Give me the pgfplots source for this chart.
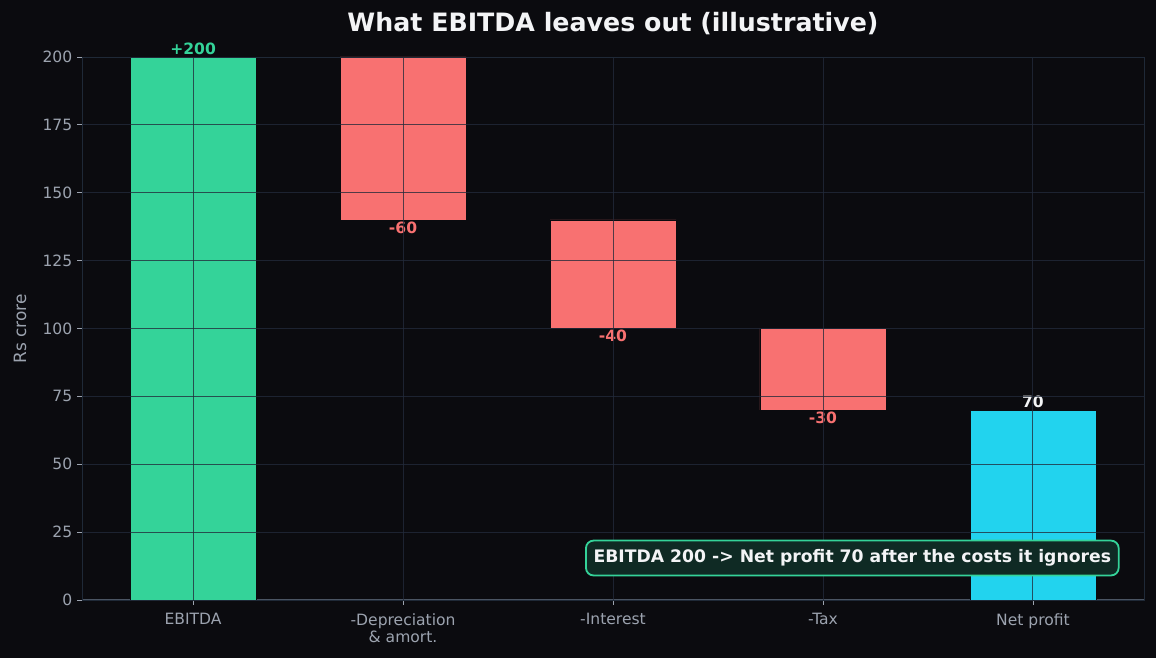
\documentclass[border=0pt]{standalone}
\usepackage{fontspec}
\setmainfont{DejaVu Sans}
\usepackage{pgfplots}
\pgfplotsset{compat=1.18}
\definecolor{bg}{HTML}{0B0B0F}
\definecolor{gridc}{HTML}{232B3B}
\definecolor{spinec}{HTML}{1F2937}
\definecolor{spineb}{HTML}{4B5563}
\definecolor{tickc}{HTML}{9CA3AF}
\definecolor{grn}{HTML}{34D399}
\definecolor{rd}{HTML}{F87171}
\definecolor{cy}{HTML}{22D3EE}
\definecolor{titlec}{HTML}{F3F4F6}
\definecolor{boxfill}{HTML}{0F2A24}
\begin{document}
\begin{tikzpicture}
\fill[bg] (0pt,0pt) rectangle (832.32pt,473.76pt);
\useasboundingbox (0pt,0pt) rectangle (832.32pt,473.76pt);
\begin{axis}[
  at={(59.04pt,41.76pt)}, anchor=south west,
  scale only axis, width=764.64pt, height=390.96pt,
  ybar stacked, bar width=0.6,
  xmin=-0.529, xmax=4.529, ymin=0, ymax=200,
  xtick={0,1,2,3,4},
  xticklabels={EBITDA,{-Depreciation\\\& amort.},-Interest,-Tax,Net profit},
  xticklabel style={align=center, font=\fontsize{11.2}{12.6}\selectfont, text=tickc, yshift=-2.5pt},
  ytick={0,25,...,200},
  yticklabel style={font=\fontsize{11.2}{12.2}\selectfont, text=tickc},
  /pgf/number format/assume math mode=true,
  axis on top=true,
  grid=major,
  major grid style={draw=gridc, line width=0.65pt, opacity=0.78},
  axis line style={draw=spinec, line width=0.6pt},
  tick style={draw=tickc, line width=0.6pt},
  major tick length=3.5pt,
  tick align=outside,
  xtick pos=bottom, ytick pos=left,
  axis background/.style={fill=bg},
  clip=false,
]
\addplot[draw=none, fill=none] coordinates {(0,0)(1,140)(2,100)(3,70)(4,0)};
\addplot[fill=grn, draw=bg, line width=0.5pt] coordinates {(0,200)(1,0)(2,0)(3,0)(4,0)};
\addplot[fill=rd, draw=bg, line width=0.5pt] coordinates {(0,0)(1,60)(2,40)(3,30)(4,0)};
\addplot[fill=cy, draw=bg, line width=0.5pt] coordinates {(0,0)(1,0)(2,0)(3,0)(4,70)};
\draw[spineb, line width=0.8pt] (rel axis cs:0,0) -- (rel axis cs:1,0);
\node[text=grn, font=\bfseries\fontsize{11.2}{12}\selectfont, anchor=south, inner sep=1.3pt] at (axis cs:0,200) {+200};
\node[text=rd, font=\bfseries\fontsize{11.2}{12}\selectfont, anchor=north, inner sep=1pt] at (axis cs:1,140) {-60};
\node[text=rd, font=\bfseries\fontsize{11.2}{12}\selectfont, anchor=north, inner sep=1pt] at (axis cs:2,100) {-40};
\node[text=rd, font=\bfseries\fontsize{11.2}{12}\selectfont, anchor=north, inner sep=1pt] at (axis cs:3,70) {-30};
\node[text=titlec, font=\bfseries\fontsize{11.2}{12}\selectfont, anchor=south, inner sep=1.3pt] at (axis cs:4,70) {70};
\coordinate (boxpos) at (rel axis cs:0.977,0.0773);
\end{axis}
\node[anchor=east, fill=boxfill, draw=grn, line width=1.3pt, rounded corners=5.5pt, text=titlec,
  font=\bfseries\fontsize{12.4}{14}\selectfont, inner xsep=5.5pt, inner ysep=6.5pt]
  at (boxpos) {EBITDA 200 -> Net profit 70 after the costs it ignores};
\node[text=titlec, font=\bfseries\fontsize{18.2}{21}\selectfont] at (441.36pt,456.48pt) {What EBITDA leaves out (illustrative)};
\node[text=tickc, font=\fontsize{12.2}{14}\selectfont, rotate=90] at (14.4pt,236.88pt) {Rs crore};
\end{tikzpicture}
\end{document}
